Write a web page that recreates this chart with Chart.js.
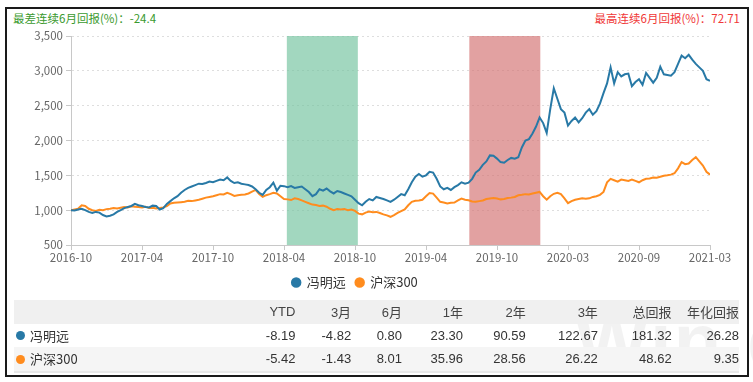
<!DOCTYPE html>
<html>
<head>
<meta charset="utf-8">
<script src="https://cdn.jsdelivr.net/npm/chart.js@4.4.1/dist/chart.umd.min.js"></script>
<style>
  html, body { margin:0; padding:0; background:#fff; }
  body { width:753px; height:382px; position:relative; overflow:hidden; font-family:"Liberation Sans", Arial, "Noto Sans CJK SC", sans-serif; }
  #frame { position:absolute; left:5px; top:7px; width:740px; height:366px; border:2px solid #1a1a1a; }
  #worst { position:absolute; left:13px; top:10px; font-size:11.5px; color:#3a9a2e; font-family:"Noto Sans CJK SC", sans-serif; }
  #best { position:absolute; right:13px; top:10px; font-size:11.5px; color:#f03838; font-family:"Noto Sans CJK SC", sans-serif; }
  #wrap { position:absolute; left:0; top:0; width:753px; height:300px; }
  #wm { position:absolute; left:575px; top:296px; font-size:78px; font-weight:bold; color:rgba(0,0,0,0.05); font-family:"Liberation Sans", Arial, sans-serif; letter-spacing:2px; }
  table { position:absolute; left:14px; top:300px; width:725px; border-collapse:collapse; font-size:13px; color:#333; }
  td { padding:0; height:23.5px; text-align:right; white-space:nowrap; }
  tr.h td { background:#f0f0f0; color:#444; font-family:"Liberation Sans", Arial, "Noto Sans CJK SC", sans-serif; }
  tr.r2 td { background:#f5f5f5; border-bottom:2px solid #e8e8e8; }
  td.n { text-align:left; padding-left:16px; position:relative; font-family:"Noto Sans CJK SC", sans-serif; font-size:13px; }
  .dot { position:absolute; left:2px; top:7.5px; width:9px; height:9px; border-radius:50%; }
</style>
</head>
<body>
<div id="frame"></div>
<div id="worst"></div>
<div id="best"></div>
<div id="wrap"><canvas id="c" width="753" height="300"></canvas></div>
<div id="wm">Win.d</div>
<table id="tbl"></table>
<script>
// ---- data ----
const xTickLabels = ["2016-10","2017-04","2017-10","2018-04","2018-10","2019-04","2019-10","2020-03","2020-09","2021-03"];
const fundName = "冯明远";
const indexName = "沪深300";
const fundValues = [
  1000,995,1010,1020,1000,975,960,975,965,930,
  910,920,940,975,1000,1030,1045,1060,1090,1070,
  1060,1045,1040,1065,1060,1010,1030,1090,1130,1170,
  1200,1250,1290,1320,1340,1360,1380,1375,1390,1410,
  1400,1420,1440,1430,1470,1420,1390,1400,1380,1370,
  1360,1340,1300,1250,1220,1290,1330,1395,1280,1350,
  1345,1330,1345,1320,1330,1340,1300,1260,1200,1230,
  1300,1280,1310,1270,1240,1275,1260,1240,1220,1200,
  1150,1100,1070,1120,1160,1140,1190,1175,1160,1140,
  1120,1150,1190,1230,1214,1300,1400,1480,1520,1480,
  1500,1550,1540,1450,1340,1300,1320,1290,1330,1360,
  1400,1380,1395,1450,1540,1580,1650,1700,1786,1780,
  1740,1690,1680,1720,1750,1740,1760,1900,2000,2020,
  2100,2200,2330,2250,2110,2450,2750,2600,2450,2400,
  2214,2280,2330,2260,2320,2400,2450,2370,2420,2530,
  2680,2820,3050,2820,2980,2920,2950,2960,2780,2840,
  2880,2800,2970,2900,2830,2900,3060,2950,2940,2930,
  2980,3100,3220,3180,3230,3160,3100,3050,3000,2880,
  2857];
const indexValues = [
  1000,1010,1020,1070,1060,1020,1000,990,1005,1000,
  1015,1020,1030,1025,1035,1045,1040,1055,1050,1045,
  1040,1050,1030,1035,1025,1030,1040,1060,1095,1105,
  1110,1115,1120,1135,1130,1140,1150,1165,1180,1190,
  1200,1215,1230,1225,1250,1230,1205,1215,1220,1225,
  1240,1265,1290,1230,1190,1215,1230,1250,1240,1200,
  1160,1155,1145,1170,1160,1140,1120,1100,1080,1075,
  1060,1065,1050,1020,1000,1015,1010,1015,1000,1010,
  990,950,940,965,980,970,975,960,940,925,
  905,930,960,985,1010,1070,1120,1135,1140,1150,
  1200,1245,1238,1180,1120,1110,1095,1105,1110,1140,
  1167,1150,1143,1125,1120,1130,1140,1160,1167,1175,
  1167,1155,1160,1175,1180,1190,1214,1220,1230,1225,
  1238,1250,1262,1200,1150,1200,1235,1250,1230,1170,
  1100,1130,1150,1160,1170,1165,1170,1190,1200,1220,
  1262,1400,1450,1430,1410,1440,1430,1420,1440,1420,
  1400,1430,1450,1455,1470,1465,1480,1495,1500,1510,
  1530,1600,1690,1660,1670,1720,1760,1700,1640,1550,
  1510];
const worstRange = [60.8, 80.8];   // in data-index units
const bestRange = [112.2, 132.2];
const worstText = "最差连续6月回报(%)：-24.4";
const bestText = "最高连续6月回报(%)：72.71";
const tableHeaders = ["", "YTD", "3月", "6月", "1年", "2年", "3年", "总回报", "年化回报"];
const fundRow = ["-8.19","-4.82","0.80","23.30","90.59","122.67","181.32","26.28"];
const indexRow = ["-5.42","-1.43","8.01","35.96","28.56","26.22","48.62","9.35"];

// ---- styles ----
const BLUE = "#2879a6";
const ORANGE = "#ff8c1e";
const colWidths = [0, 231, 62, 57, 68, 70, 80, 82, 71];
const TICK_EVERY = 20;

document.getElementById('worst').textContent = worstText;
document.getElementById('best').textContent = bestText;

// table
const tbl = document.getElementById('tbl');
function addRow(cells, cls, name, color) {
  const tr = document.createElement('tr');
  tr.className = cls;
  cells.forEach((c, i) => {
    const td = document.createElement('td');
    if (i === 0) {
      td.className = 'n';
      if (name) {
        const d = document.createElement('span');
        d.className = 'dot'; d.style.background = color;
        td.appendChild(d);
        td.appendChild(document.createTextNode(name));
      }
      td.style.width = '80px';
    } else {
      td.textContent = c;
      td.style.width = colWidths[i] + 'px';
    }
    tr.appendChild(td);
  });
  tbl.appendChild(tr);
}
addRow(tableHeaders, 'h');
addRow([""].concat(fundRow), 'r1', fundName, BLUE);
addRow([""].concat(indexRow), 'r2', indexName, ORANGE);

const shadePlugin = {
  id: 'shade',
  beforeDatasetsDraw(chart) {
    const {ctx, chartArea, scales: {x}} = chart;
    const bands = [[worstRange, 'rgba(118,196,160,0.68)'], [bestRange, 'rgba(210,110,110,0.65)']];
    ctx.save();
    bands.forEach(([r, col]) => {
      const x1 = x.getPixelForValue(r[0]), x2 = x.getPixelForValue(r[1]);
      ctx.fillStyle = col;
      ctx.fillRect(x1, chartArea.top, x2 - x1, chartArea.bottom - chartArea.top);
    });
    ctx.restore();
  }
};

new Chart(document.getElementById('c'), {
  type: 'line',
  data: {
    datasets: [
      { label: fundName, data: fundValues.map((v, i) => ({x: i, y: v})), borderColor: BLUE, backgroundColor: BLUE, borderWidth: 2, pointRadius: 0, tension: 0 },
      { label: indexName, data: indexValues.map((v, i) => ({x: i, y: v})), borderColor: ORANGE, backgroundColor: ORANGE, borderWidth: 2, pointRadius: 0, tension: 0 }
    ]
  },
  plugins: [shadePlugin],
  options: {
    responsive: false,
    animation: false,
    layout: { padding: { top: 36, right: 43, bottom: 1, left: 0 } },
    plugins: {
      tooltip: { enabled: false },
      legend: {
        position: 'bottom',
        labels: {
          usePointStyle: true, pointStyle: 'circle', boxWidth: 8, boxHeight: 6,
          padding: 10, color: '#333',
          font: { size: 13, family: '"Noto Sans CJK SC", sans-serif' }
        }
      }
    },
    scales: {
      x: {
        type: 'linear', min: 0, max: fundValues.length - 1,
        afterFit(s) { s.height = 21; },
        afterBuildTicks(s) { s.ticks = xTickLabels.map((_, i) => ({value: i * TICK_EVERY})); },
        ticks: {
          autoSkip: false, maxRotation: 0, color: '#666', padding: 1,
          font: { size: 11.5, family: '"Noto Sans CJK SC", sans-serif' },
          callback: (v) => xTickLabels[Math.round(v / TICK_EVERY)]
        },
        grid: { display: true, drawOnChartArea: false, drawTicks: true, tickLength: 5, color: '#c8c8c8' },
        border: { display: true, color: '#c8c8c8', width: 1 }
      },
      y: {
        min: 500, max: 3500,
        afterFit(s) { s.width = 71; },
        ticks: {
          stepSize: 500, color: '#666', padding: 3,
          font: { size: 11.5, family: '"Noto Sans CJK SC", sans-serif' },
          callback: (v) => v.toLocaleString('en-US')
        },
        grid: { color: '#dedede', lineWidth: 1, tickLength: 5, tickColor: '#c8c8c8', tickBorderDash: [] },
        border: { display: true, color: '#c8c8c8', width: 1, dash: [2, 3] }
      }
    }
  }
});
</script>
</body>
</html>
